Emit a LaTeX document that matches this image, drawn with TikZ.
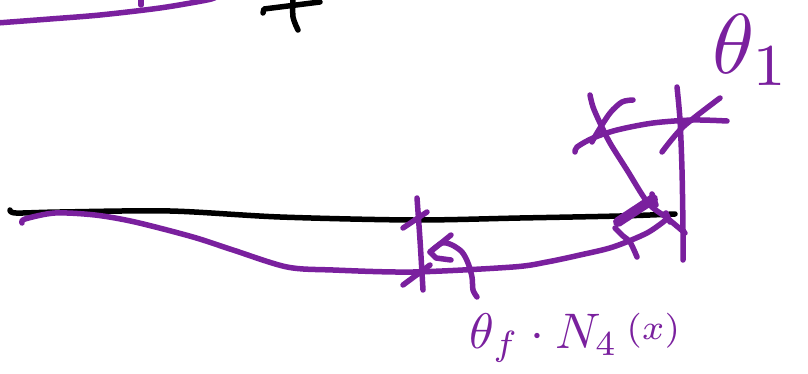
\documentclass[tikz,border=0pt]{standalone}
\definecolor{penpurple}{RGB}{122,32,158}
\begin{document}
\begin{tikzpicture}[x=1pt,y=-1pt,line cap=round,line join=round,
	ink/.style={line width=5.5pt,draw=black},
	pen/.style={line width=5.5pt,draw=penpurple},
	fatpen/.style={line width=10pt,draw=penpurple},
	hand/.style={text=penpurple,inner sep=0pt}]
	\useasboundingbox (0,0) rectangle (808,374);
	% left over from the part above
	\draw[pen] plot[smooth] coordinates {(-3,23) (50,19) (100,15) (160,8) (207,0) (216,-3)};
	\draw[pen] (141,5)--(141,-4);
	\draw[ink] (263,13)--(264,9)--(320,2);
	\draw[ink] plot[smooth] coordinates {(293,-2) (293,17) (298,30)};
	% beam and deflection
	\draw[ink] plot[smooth] coordinates {(10,210) (16,213) (60,212) (170,211) (280,217) (413,220) (520,218) (620,216) (675,214)};
	\draw[pen] plot[smooth] coordinates {(22,223) (25,219) (55,213) (95,215) (135,222) (193,237) (233,250) (287,267) (333,270) (413,272) (513,267) (547,262) (580,255) (613,247) (647,233) (667,219)};
	% node at the middle
	\draw[pen] plot[smooth] coordinates {(417,198) (420,240) (423,290)};
	\draw[pen] (403,228)--(427,212);
	\draw[pen] (403,285)--(430,265);
	\draw[pen] plot[smooth] coordinates {(477,297) (473,290) (472,277) (468,263) (462,252) (452,245) (442,243) (430,252)};
	\draw[pen] (451,235)--(430,252)--(436,258)--(451,260);
	% rotated end
	\draw[pen] plot[smooth] coordinates {(590,95) (593,107) (600,123) (610,143) (627,170) (648,203) (667,218) (685,233)};
	\draw[pen] plot[smooth] coordinates {(633,100) (622,102) (610,113) (597,133) (592,142)};
	\draw[pen] plot[smooth] coordinates {(575,152) (577,147) (593,138) (617,130) (653,123) (693,120) (727,121)};
	\draw[pen] plot[smooth] coordinates {(677,87) (680,120) (682,170) (683,230) (683,260)};
	\draw[pen] plot[smooth] coordinates {(662,152) (683,127) (720,98)};
	\draw[fatpen] (618,222)--(653,199);
	\draw[pen] (652,194)--(656,205);
	\draw[pen] plot[smooth] coordinates {(615,228) (623,236) (630,242) (637,257)};
	\draw[pen] (666,213)--(670,222);
	% labels
	\node[hand] (endlabel) at (752,50) {\scalebox{8.5}{$\theta_1$}};
	\node[hand] (rotlabel) at (575,338) {\scalebox{5}{$\theta_f\cdot N_4\,\raisebox{1.8pt}{$\scriptstyle(x)$}$}};
\end{tikzpicture}
\end{document}
